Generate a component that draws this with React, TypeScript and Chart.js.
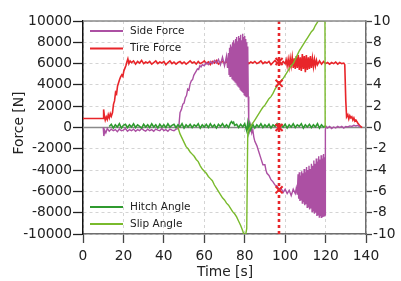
import React, { useEffect, useRef } from "react";
import { Chart, registerables } from "chart.js";

Chart.register(...registerables);

// ---- data (time [s], value) ----
const tireForce: number[][] = [
  [0, 850], [10, 850], [10.2, 1700], [10.6, 1050], [11, 700], [11.5, 1000], [12, 750], [12.5, 1200], [13, 900],
  [13.5, 1300], [14, 1050], [14.6, 1400], [15.1, 2200], [15.6, 2500], [16.1, 3300], [16.6, 3150], [17.1, 3900],
  [17.6, 4200], [18.1, 4500], [18.6, 4750], [19.2, 4950], [19.7, 4800], [20.2, 5300], [20.7, 5550], [21.2, 5800],
  [21.7, 6150], [22.2, 6450], [22.7, 6000], [23.3, 6250], [24, 6100], [25, 6250], [26, 5950], [27, 6200], [28, 6050],
  [29, 6300], [30, 6000], [31, 6150], [32, 6050], [33, 6200], [34, 5950], [35, 6100], [36, 6250], [37, 6000],
  [38, 6150], [39, 6050], [40, 6200], [41, 5900], [42, 6100], [43, 6250], [44, 6000], [45, 6150], [46, 5950],
  [47, 6100], [48, 6200], [49, 6000], [50, 6150], [51, 5950], [52, 6100], [53, 6250], [54, 6050], [55, 6150],
  [56, 5950], [57, 6200], [58, 6000], [59, 6100], [60, 6250], [61, 6000], [62, 6150], [63, 5900], [64, 6200],
  [65, 6050], [66, 6300], [67, 5950], [68, 6100], [69, 6200], [70, 6050], [71, 6150], [72, 6250], [73, 5900],
  [74, 6100], [75, 6000], [76, 6200], [77, 6050], [78, 6150], [79, 5950], [80, 6100], [81, 6200], [82, 6000],
  [83, 6150], [84, 6050], [85, 6200], [86, 6000], [87, 6100], [88, 6250], [89, 6000], [90, 6150], [91, 6050],
  [92, 6200], [93, 5900], [94, 6100], [95, 6300], [96, 6050], [97, 6150], [98, 5950], [99, 6200], [100, 6000],
  [100.5, 6350], [101, 5800], [101.5, 6400], [102, 5700], [102.5, 6500], [103, 5800], [103.5, 6600], [104, 5600],
  [104.5, 6500], [105, 5500], [105.5, 6700], [106, 5600], [106.5, 6800], [107, 5400], [107.5, 6600], [108, 5300],
  [108.5, 6900], [109, 5500], [109.5, 6700], [110, 5200], [110.5, 6800], [111, 5400], [111.5, 6600], [112, 5500],
  [112.5, 6700], [113, 5600], [113.5, 6500], [114, 5700], [114.5, 6400], [115, 5800], [115.5, 6300], [116, 5900],
  [117, 6250], [118, 5950], [119, 6200], [120, 6000], [121, 6100], [122, 5950], [123, 6100], [124, 6000],
  [125, 6150], [126, 5950], [127, 6100], [128, 6000], [129, 6050], [129.5, 5900], [130, 2500], [130.4, 1000],
  [131, 1200], [131.5, 800], [132, 1100], [132.5, 900], [133, 1000], [133.5, 700], [134, 900], [134.5, 600],
  [135, 700], [136, 400], [137, 150], [138, 0],
];

const sideForce: number[][] = [
  [10, 0], [10.3, -800], [10.8, -300], [11.3, -500], [12, -100], [13, -350], [14, -150], [15, -300], [16, -200],
  [17, -400], [18, -150], [19, -300], [20, -250], [21, -100], [22, -350], [23, -200], [24, -300], [25, -150],
  [26, -350], [27, -200], [28, -300], [29, -100], [30, -250], [31, -350], [32, -150], [33, -300], [34, -200],
  [35, -350], [36, -150], [37, -250], [38, -300], [39, -100], [40, -300], [41, -200], [42, -350], [43, -150],
  [44, -250], [45, -300], [46, -150], [47, -100], [47.5, 300], [48, 1400], [48.7, 1700], [49.4, 2200], [50, 2300],
  [50.6, 2800], [51.2, 3000], [51.8, 3600], [52.4, 3500], [53, 4100], [53.6, 4400], [54.2, 4500], [54.8, 4900],
  [55.4, 5100], [56, 5300], [56.6, 5500], [57.2, 5450], [57.8, 5800], [58.4, 5700], [59, 5900], [60, 5800],
  [61, 6100], [62, 5900], [63, 6200], [64, 6000], [65, 6300], [66, 6050], [67, 6400], [68, 5900], [69, 6600],
  [70, 5800], [71, 6700], [71.5, 5600], [72, 7000], [72.25, 5000], [72.5, 7500], [72.75, 4800], [73, 7800],
  [73.25, 4900], [73.5, 7600], [73.75, 4600], [74, 8000], [74.25, 4500], [74.5, 8200], [74.75, 4400], [75, 7900],
  [75.25, 4300], [75.5, 8300], [75.75, 4200], [76, 8500], [76.25, 4000], [76.5, 8100], [76.75, 3900], [77, 8600],
  [77.25, 3800], [77.5, 8400], [77.75, 3600], [78, 8700], [78.25, 3500], [78.5, 8200], [78.75, 3400], [79, 8800],
  [79.25, 3300], [79.5, 8500], [79.75, 3100], [80, 8600], [80.25, 3000], [80.5, 8300], [80.75, 2900], [81, 8000],
  [81.25, 3000], [81.5, 7600], [81.75, 2900], [82, 300], [82.5, -300], [83, 200], [83.5, -500], [84, -200],
  [84.5, -900], [85, -1300], [86, -1700], [87, -2300], [88, -2900], [89, -3500], [90, -3500], [90.5, -4000],
  [91, -4300], [92, -4500], [93, -4900], [94, -5100], [95, -5400], [96, -5500], [97, -5800], [98, -5700],
  [99, -6100], [100, -5800], [101, -6200], [102, -5900], [103, -6400], [104, -5800], [105, -6200], [105.5, -5700],
  [106, -6300], [106.4, -4400], [106.7, -6700], [107, -4200], [107.3, -6900], [107.6, -4500], [107.9, -6800],
  [108.2, -4100], [108.5, -7100], [108.8, -4300], [109.1, -7000], [109.4, -3900], [109.7, -7300], [110, -4200],
  [110.3, -7200], [110.6, -3700], [110.9, -7500], [111.2, -4000], [111.5, -7400], [111.8, -3600], [112.1, -7700],
  [112.4, -3900], [112.7, -7600], [113, -3400], [113.3, -7900], [113.6, -3600], [113.9, -7800], [114.2, -3100],
  [114.5, -8100], [114.8, -3400], [115.1, -8000], [115.4, -2900], [115.7, -8300], [116, -3200], [116.3, -8200],
  [116.6, -2700], [116.9, -8400], [117.2, -3000], [117.5, -8300], [117.8, -2600], [118.1, -8500], [118.4, -2900],
  [118.7, -8400], [119, -2500], [119.3, -8300], [119.6, -2800], [119.8, -8200], [119.9, -200], [120.3, 100],
  [121, -50], [122, 100], [123, -100], [124, 50], [125, -50], [126, 100], [127, 0], [128, 100], [129, -50],
  [130, 100], [131, 50], [132, 150], [133, 100], [134, 200], [135, 150], [136, 200], [137, 50],
];

const hitchAngle: number[][] = [
  [13, 0.1], [14, 0.3], [15, -0.05], [16, 0.25], [17, 0.05], [18, 0.35], [19, -0.05], [20, 0.2], [21, 0.3],
  [22, 0.0], [23, 0.25], [24, 0.05], [25, 0.35], [26, 0.0], [27, 0.25], [28, 0.1], [29, -0.05], [30, 0.3],
  [31, 0.05], [32, 0.25], [33, 0.0], [34, 0.35], [35, 0.05], [36, 0.25], [37, -0.05], [38, 0.3], [39, 0.05],
  [40, 0.25], [41, 0.0], [42, 0.35], [43, 0.05], [44, 0.2], [45, 0.3], [46, 0.0], [47, 0.25], [48, 0.05],
  [49, 0.35], [50, -0.05], [51, 0.25], [52, 0.05], [53, 0.3], [54, 0.0], [55, 0.25], [56, 0.1], [57, 0.35],
  [58, -0.05], [59, 0.25], [60, 0.05], [61, 0.3], [62, 0.0], [63, 0.35], [64, 0.05], [65, 0.25], [66, -0.05],
  [67, 0.3], [68, 0.1], [69, 0.35], [70, 0.05], [71, 0.25], [72, 0.0], [73, 0.45], [73.5, 0.55], [74, 0.4],
  [74.5, 0.5], [75, 0.2], [76, 0.3], [77, 0.0], [78, 0.3], [79, 0.05], [80, 0.35], [81, -0.3], [81.5, 0.4],
  [82, -0.4], [82.5, 0.3], [83, -0.2], [84, 0.3], [85, -0.05], [86, 0.25], [87, 0.05], [88, 0.35], [89, 0.0],
  [90, 0.25], [91, 0.05], [92, 0.3], [93, -0.05], [94, 0.25], [95, 0.1], [96, 0.35], [97, 0.0], [98, 0.25],
  [99, 0.05], [100, 0.3], [101, -0.05], [102, 0.25], [103, 0.05], [104, 0.35], [105, 0.0], [106, 0.25], [107, 0.1],
  [108, 0.35], [109, -0.05], [110, 0.25], [111, 0.05], [112, 0.3], [113, 0.0], [114, 0.25], [115, 0.05], [116, 0.35],
  [117, -0.05], [118, 0.25], [119, 0.05], [120, 0.15],
];

const slipAngle: number[][] = [
  [47, 0], [47.5, -0.3], [48, -0.6], [49, -1.0], [50, -1.4], [51, -1.8], [52, -2.0], [53, -2.3], [54, -2.5],
  [55, -2.7], [56, -3.0], [57, -3.2], [58, -3.6], [59, -3.9], [60, -4.1], [61, -4.3], [62, -4.6], [63, -4.8],
  [64, -5.0], [65, -5.4], [66, -5.7], [67, -6.0], [68, -6.3], [69, -6.6], [70, -6.8], [71, -7.1], [72, -7.3],
  [73, -7.6], [74, -7.9], [75, -8.1], [76, -8.4], [77, -8.8], [78, -9.2], [79, -9.7], [79.5, -10], [80.5, -10],
  [81, -9.5], [81.5, -0.5], [82, -0.2], [83, 0.1], [84, 0.4], [85, 0.7], [86, 1.0], [87, 1.3], [88, 1.6],
  [89, 1.9], [90, 2.1], [91, 2.4], [92, 2.7], [93, 2.9], [94, 3.2], [95, 3.6], [96, 3.9], [97, 4.15], [98, 4.4],
  [99, 4.6], [100, 4.9], [101, 5.2], [102, 5.5], [103, 5.8], [104, 6.0], [105, 6.4], [106, 6.8], [107, 7.2],
  [108, 7.5], [109, 7.8], [110, 8.1], [111, 8.4], [112, 8.7], [113, 9.0], [114, 9.2], [115, 9.6], [116, 9.9],
  [116.5, 10], [119.7, 10], [119.8, 0], [120, 0],
];

const markerTime = 97;
const forceMarks = [6200, -5850];
const angleMarks = [0, 4.15];

const xTicks = [0, 20, 40, 60, 80, 100, 120, 140];
const forceTicks = [-10000, -8000, -6000, -4000, -2000, 0, 2000, 4000, 6000, 8000, 10000];
const angleTicks = [-10, -8, -6, -4, -2, 0, 2, 4, 6, 8, 10];

const labels = ["Side Force", "Tire Force", "Hitch Angle", "Slip Angle"];
const xTitle = "Time [s]";
const yTitle = "Force [N]";

const RED = "#e8252a";
const PURPLE = "#ac50a3";
const GREEN = "#2f9a2f";
const LGREEN = "#79ba2c";
const FONT = "DejaVu Sans";

const toXY = (arr: number[][]) => arr.map(([x, y]) => ({ x, y }));

const decor = {
  id: "decor",
  beforeDatasetsDraw(chart: any) {
    const { ctx, chartArea: a, scales } = chart;
    const y0 = scales.y.getPixelForValue(0);
    ctx.save();
    ctx.strokeStyle = "#8a8a8a";
    ctx.lineWidth = 1.6;
    ctx.beginPath();
    ctx.moveTo(a.left, y0);
    ctx.lineTo(a.right, y0);
    ctx.stroke();
    ctx.restore();
  },
  afterDatasetsDraw(chart: any) {
    const { ctx, chartArea: a, scales } = chart;
    const x = Math.round(scales.x.getPixelForValue(markerTime));
    ctx.save();
    ctx.strokeStyle = RED;
    ctx.lineWidth = 2.6;
    ctx.setLineDash([3, 3]);
    ctx.beginPath();
    ctx.moveTo(x, a.top);
    ctx.lineTo(x, a.bottom);
    ctx.stroke();
    ctx.setLineDash([]);
    // top frame line
    ctx.strokeStyle = "#8a8a8a";
    ctx.lineWidth = 1.5;
    ctx.beginPath();
    ctx.moveTo(a.left, a.top);
    ctx.lineTo(a.right, a.top);
    ctx.stroke();
    ctx.restore();
  },
  afterDraw(chart: any) {
    const { ctx, chartArea: a } = chart;
    ctx.save();
    const ds = chart.data.datasets;
    const drawEntry = (i: number, y: number) => {
      ctx.strokeStyle = ds[i].borderColor;
      ctx.lineWidth = 2;
      ctx.beginPath();
      ctx.moveTo(a.left + 7, y);
      ctx.lineTo(a.left + 40, y);
      ctx.stroke();
      ctx.fillStyle = "#222";
      ctx.font = `10.5px "${FONT}"`;
      ctx.textAlign = "left";
      ctx.textBaseline = "middle";
      ctx.fillText(ds[i].label, a.left + 47, y);
    };
    drawEntry(0, a.top + 10);
    drawEntry(1, a.top + 27.5);
    drawEntry(2, a.bottom - 27);
    drawEntry(3, a.bottom - 10);

    ctx.fillStyle = "#222";
    ctx.font = `13.8px "${FONT}"`;
    ctx.textAlign = "center";
    ctx.textBaseline = "middle";
    ctx.fillText(xTitle, (a.left + a.right) / 2 + 0.5, 272);
    ctx.translate(19, 123);
    ctx.rotate(-Math.PI / 2);
    ctx.fillText(yTitle, 0, 0);
    ctx.restore();
  },
};

export default function App() {
  const ref = useRef<HTMLCanvasElement>(null);
  useEffect(() => {
    if (!ref.current) return;
    const tickFont = { family: FONT, size: 13.8 };
    const chart = new Chart(ref.current, {
      type: "line",
      data: {
        datasets: [
          { label: labels[0], data: toXY(sideForce), borderColor: PURPLE, borderWidth: 1.4, yAxisID: "y", order: 3, pointRadius: 0, tension: 0 },
          { label: labels[1], data: toXY(tireForce), borderColor: RED, borderWidth: 1.6, yAxisID: "y", order: 4, pointRadius: 0, tension: 0 },
          { label: labels[2], data: toXY(hitchAngle), borderColor: GREEN, borderWidth: 1.6, yAxisID: "y1", order: 2, pointRadius: 0, tension: 0 },
          { label: labels[3], data: toXY(slipAngle), borderColor: LGREEN, borderWidth: 1.4, yAxisID: "y1", order: 1, pointRadius: 0, tension: 0 },
          {
            label: "marks-force", data: forceMarks.map((v) => ({ x: markerTime, y: v })), yAxisID: "y", order: 0,
            showLine: false, pointStyle: "crossRot", pointRadius: 5, borderColor: RED, backgroundColor: RED, pointBorderWidth: 2,
          } as any,
          {
            label: "marks-angle", data: angleMarks.map((v) => ({ x: markerTime, y: v })), yAxisID: "y1", order: 0,
            showLine: false, pointStyle: "crossRot", pointRadius: 5, borderColor: RED, backgroundColor: RED, pointBorderWidth: 2,
          } as any,
        ],
      },
      options: {
        responsive: false,
        animation: false,
        layout: { padding: { top: 21, left: 0, right: 0, bottom: 0 } },
        plugins: { legend: { display: false }, tooltip: { enabled: false } },
        scales: {
          x: {
            type: "linear", min: 0, max: 140, position: "bottom",
            afterBuildTicks: (s: any) => { s.ticks = xTicks.map((v) => ({ value: v })); },
            afterFit: (s: any) => { s.height = 47; },
            ticks: { font: tickFont, color: "#222", padding: 5, maxRotation: 0, callback: (v: any) => String(v) },
            grid: { color: "#d4d4d4", lineWidth: 1, tickColor: "#444", tickLength: 9, tickWidth: 1.3 },
            border: { color: "#6e6e6e", width: 1.5, dash: [3, 3] },
          },
          y: {
            type: "linear", min: -10000, max: 10000, position: "left",
            afterBuildTicks: (s: any) => { s.ticks = forceTicks.map((v) => ({ value: v })); },
            afterFit: (s: any) => { s.width = 83; },
            ticks: { font: tickFont, color: "#222", padding: 1, callback: (v: any) => String(v) },
            grid: { color: "#d4d4d4", lineWidth: 1, tickColor: "#222", tickLength: 10, tickWidth: 1.3 },
            border: { color: "#111", width: 1.5, dash: [3, 3] },
          },
          y1: {
            type: "linear", min: -10, max: 10, position: "right",
            afterBuildTicks: (s: any) => { s.ticks = angleTicks.map((v) => ({ value: v })); },
            afterFit: (s: any) => { s.width = 35; },
            ticks: { font: tickFont, color: "#222", padding: 1, callback: (v: any) => String(v) },
            grid: { drawOnChartArea: false, tickColor: "#444", tickLength: 6, tickWidth: 1.3 },
            border: { color: "#6e6e6e", width: 1.5 },
          },
        },
      },
      plugins: [decor],
    } as any);
    return () => chart.destroy();
  }, []);
  return (
    <div style={{ position: "fixed", left: 0, top: 0, width: 401, height: 281, background: "#fff" }}>
      <canvas ref={ref} width={401} height={281} style={{ width: 401, height: 281, display: "block" }} />
    </div>
  );
}
